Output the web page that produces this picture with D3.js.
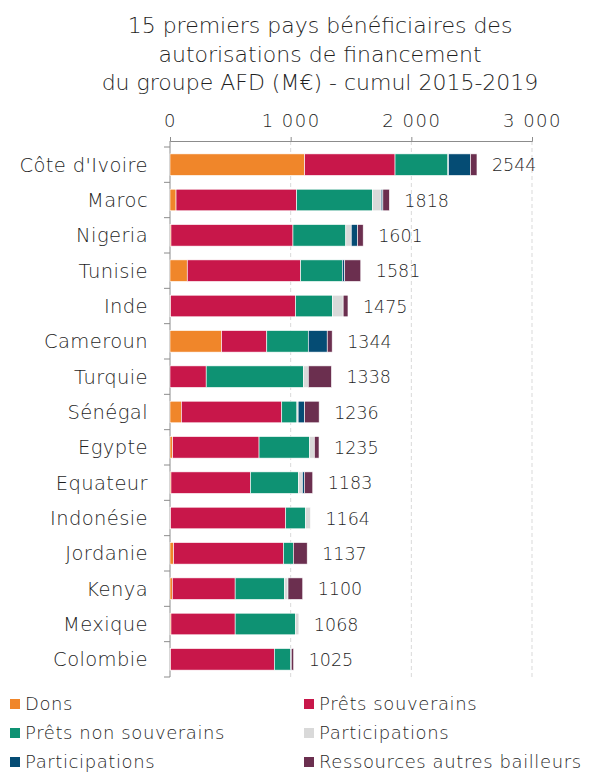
<!DOCTYPE html>
<html>
<head>
<meta charset="utf-8">
<script src="https://cdn.jsdelivr.net/npm/d3@7"></script>
<style>
  body { margin: 0; background: #fff; }
  svg text { font-family: "DejaVu Sans", sans-serif; font-weight: 200; fill: #1f1f1f; }
</style>
</head>
<body>
<svg id="chart" width="589" height="773" viewBox="0 0 589 773"></svg>
<script>
// Données (M€)
const countries = ["Côte d'Ivoire", "Maroc", "Nigeria", "Tunisie", "Inde", "Cameroun", "Turquie",
  "Sénégal", "Egypte", "Equateur", "Indonésie", "Jordanie", "Kenya", "Mexique", "Colombie"];
const totals = [2544, 1818, 1601, 1581, 1475, 1344, 1338, 1236, 1235, 1183, 1164, 1137, 1100, 1068, 1025];

const seriesNames = ["Dons", "Prêts souverains", "Prêts non souverains", "Participations", "Participations", "Ressources autres bailleurs"];
const seriesColors = ["#F0862A", "#C8174A", "#0E9273", "#D9D9D9", "#054C74", "#6B2F4F"];

const dons            = [1116,   50,    8,  143,    5,  427,   0,  94,  22,   8,   5,  30,  19,   8,   5];
const pretsSouverains = [ 749, 1000, 1011,  940, 1036,  375, 300, 832, 716, 659, 954, 910, 521, 532, 860];
const pretsNonSouv    = [ 438,  628,  438,  345,  304,  344, 805, 126, 419, 397, 165,  82, 408, 501, 135];
const participGris    = [   5,   72,   45,    0,   90,    0,  41,  10,  39,  33,  40,   0,  30,  27,   0];
const participBleu    = [ 182,   14,   52,   20,    0,  157,   0,  54,   0,  16,   0,   0,   0,   0,   5];
const ressources      = [  54,   54,   47,  133,   40,   41, 192, 120,  39,  70,   0, 115, 122,   0,  20];

const xTicks = [0, 1000, 2000, 3000];
const titleLines = ["15 premiers pays bénéficiaires des", "autorisations de financement", "du groupe AFD (M€) - cumul 2015-2019"];

const svg = d3.select("#chart");
const margin = { left: 170, top: 141 };

const seriesArrays = [dons, pretsSouverains, pretsNonSouv, participGris, participBleu, ressources];
const rows = countries.map((c, i) => {
  const row = { country: c, total: totals[i] };
  seriesArrays.forEach((arr, k) => { row["s" + k] = arr[i]; });
  return row;
});
const keys = seriesArrays.map((d, k) => "s" + k);
const stacked = d3.stack().keys(keys)(rows);

const x = d3.scaleLinear().domain([0, 3000]).range([margin.left, 532]);
const y = d3.scaleBand().domain(countries).range([147, 677]).paddingInner(0.39).paddingOuter(0.195);

// titre
svg.append("g").selectAll("text").data(titleLines).enter().append("text")
  .attr("x", 320).attr("y", (d, i) => 33 + i * 28.7)
  .attr("text-anchor", "middle").style("font-size", "22px")
  .text(d => d);

// grille
svg.append("g").selectAll("line").data(xTicks.slice(1)).enter().append("line")
  .attr("x1", d => x(d)).attr("x2", d => x(d))
  .attr("y1", margin.top).attr("y2", 680)
  .attr("stroke", "#D9D9D9").attr("stroke-dasharray", "4,3").attr("stroke-width", 1);

// axe x en haut
const xAxis = svg.append("g").attr("transform", `translate(0,${margin.top})`)
  .call(d3.axisTop(x).tickValues(xTicks).tickSize(4).tickPadding(10)
    .tickFormat(d => d3.format(",")(d).replace(",", " ")));
xAxis.select(".domain").attr("stroke", "#8C8C8C");
xAxis.selectAll(".tick line").attr("stroke", "#8C8C8C");
xAxis.selectAll(".tick text").style("font-size", "18px").style("font-weight", 200)
  .style("letter-spacing", "1.5px")
  .style("font-family", "'DejaVu Sans', sans-serif").attr("fill", "#1f1f1f");

// axe y
const bounds = d3.range(countries.length + 1).map(i => 147 + i * y.step());
svg.append("line").attr("x1", margin.left).attr("x2", margin.left)
  .attr("y1", margin.top).attr("y2", 677).attr("stroke", "#8C8C8C");
svg.append("g").selectAll("line").data(bounds).enter().append("line")
  .attr("x1", margin.left - 6).attr("x2", margin.left)
  .attr("y1", d => d).attr("y2", d => d).attr("stroke", "#8C8C8C");

svg.append("g").selectAll("text").data(countries).enter().append("text")
  .attr("x", 148).attr("y", d => y(d) + y.bandwidth() / 2)
  .attr("dy", "0.36em").attr("text-anchor", "end")
  .style("font-size", "19.5px").style("letter-spacing", "0.4px").text(d => d);

// barres
svg.append("g").selectAll("g").data(stacked).enter().append("g")
  .attr("fill", (d, k) => seriesColors[k])
  .selectAll("rect").data(d => d).enter().append("rect")
  .attr("x", d => x(d[0])).attr("width", d => Math.max(0, x(d[1]) - x(d[0])))
  .attr("y", d => y(d.data.country)).attr("height", y.bandwidth())
  .attr("stroke", "#fff").attr("stroke-width", 0.6);

// totaux
svg.append("g").selectAll("text").data(rows).enter().append("text")
  .attr("x", d => x(d.total) + 15).attr("y", d => y(d.country) + y.bandwidth() / 2)
  .attr("dy", "0.38em").style("font-size", "17.5px")
  .text(d => d.total);

// légende
const legend = svg.append("g").selectAll("g").data(seriesNames).enter().append("g")
  .attr("transform", (d, i) => `translate(${i % 2 === 0 ? 10 : 304},${704 + Math.floor(i / 2) * 29})`);
legend.append("rect").attr("x", 0).attr("y", -5).attr("width", 10).attr("height", 10)
  .attr("fill", (d, i) => seriesColors[i]);
legend.append("text").attr("x", 15).attr("y", 0).attr("dy", "0.36em")
  .style("font-size", "18px").style("letter-spacing", "0.6px").text(d => d);
</script>
</body>
</html>
